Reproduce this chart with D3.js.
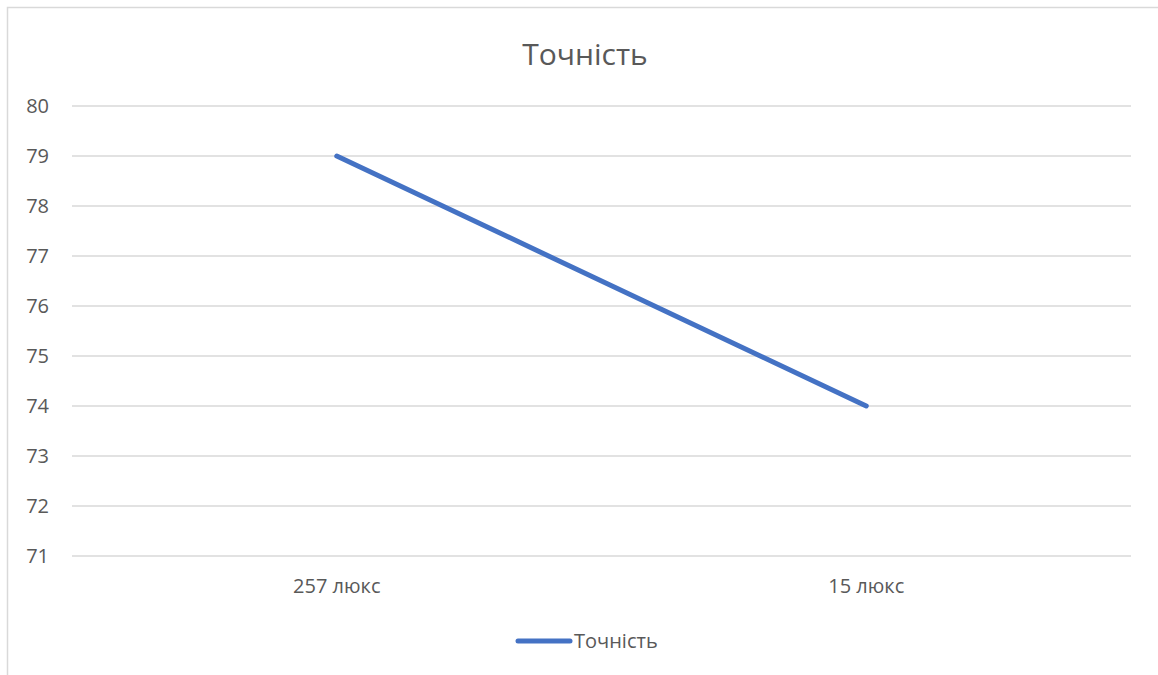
<!DOCTYPE html>
<html lang="uk">
<head>
<meta charset="utf-8">
<title>Точність</title>
<script src="https://cdn.jsdelivr.net/npm/d3@7"></script>
<style>
  body { margin: 0; background: #fff; }
  text { font-family: "Open Sans", "Noto Sans", sans-serif; fill: #595959; }
</style>
</head>
<body>
<div id="chart"></div>
<script>
// data
var categories = ["257 люкс", "15 люкс"];
var values = [79, 74];
var seriesName = "Точність";
var yTicks = [71, 72, 73, 74, 75, 76, 77, 78, 79, 80];

var W = 1158, H = 675;
var margin = {top: 106, right: 27, bottom: 119, left: 72};
var width = W - margin.left - margin.right;
var height = H - margin.top - margin.bottom;

var svg = d3.select("#chart").append("svg")
    .attr("width", W)
    .attr("height", H);

// chart border
svg.append("rect")
    .attr("x", 7.5).attr("y", 7.5)
    .attr("width", W).attr("height", H)
    .attr("fill", "none")
    .attr("stroke", "#d9d9d9")
    .attr("stroke-width", 1.5);

svg.append("text")
    .attr("x", 585).attr("y", 65)
    .attr("text-anchor", "middle")
    .style("font-size", "30px")
    .text(seriesName);

var g = svg.append("g")
    .attr("transform", "translate(" + margin.left + "," + margin.top + ")");

var x = d3.scaleBand().domain(categories).range([0, width]);
var y = d3.scaleLinear().domain([71, 80]).range([height, 0]);

// gridlines
g.selectAll("line.grid")
    .data(yTicks)
    .enter().append("line")
    .attr("class", "grid")
    .attr("x1", 0).attr("x2", width)
    .attr("y1", function(d) { return y(d); })
    .attr("y2", function(d) { return y(d); })
    .attr("stroke", "#d9d9d9")
    .attr("stroke-width", 1.5);

var yAxis = g.append("g")
    .call(d3.axisLeft(y).tickValues(yTicks).tickSize(0).tickPadding(23));
yAxis.select(".domain").remove();
yAxis.selectAll("text").style("font-size", "20px").attr("fill", "#595959");

var xAxis = g.append("g")
    .attr("transform", "translate(0," + height + ")")
    .call(d3.axisBottom(x).tickSize(0).tickPadding(23));
xAxis.select(".domain").remove();
xAxis.selectAll("text").style("font-size", "20px").attr("fill", "#595959");

var line = d3.line()
    .x(function(d, i) { return x(categories[i]) + x.bandwidth() / 2; })
    .y(function(d) { return y(d); });

g.append("path")
    .datum(values)
    .attr("d", line)
    .attr("fill", "none")
    .attr("stroke", "#4472c4")
    .attr("stroke-width", 5)
    .attr("stroke-linecap", "round")
    .attr("stroke-linejoin", "round");

// legend
var legend = svg.append("g").attr("transform", "translate(518,641)");
legend.append("line")
    .attr("x1", 0).attr("x2", 52)
    .attr("stroke", "#4472c4")
    .attr("stroke-width", 5)
    .attr("stroke-linecap", "round");
legend.append("text")
    .attr("x", 56).attr("y", 7)
    .style("font-size", "20px")
    .text(seriesName);
</script>
</body>
</html>
